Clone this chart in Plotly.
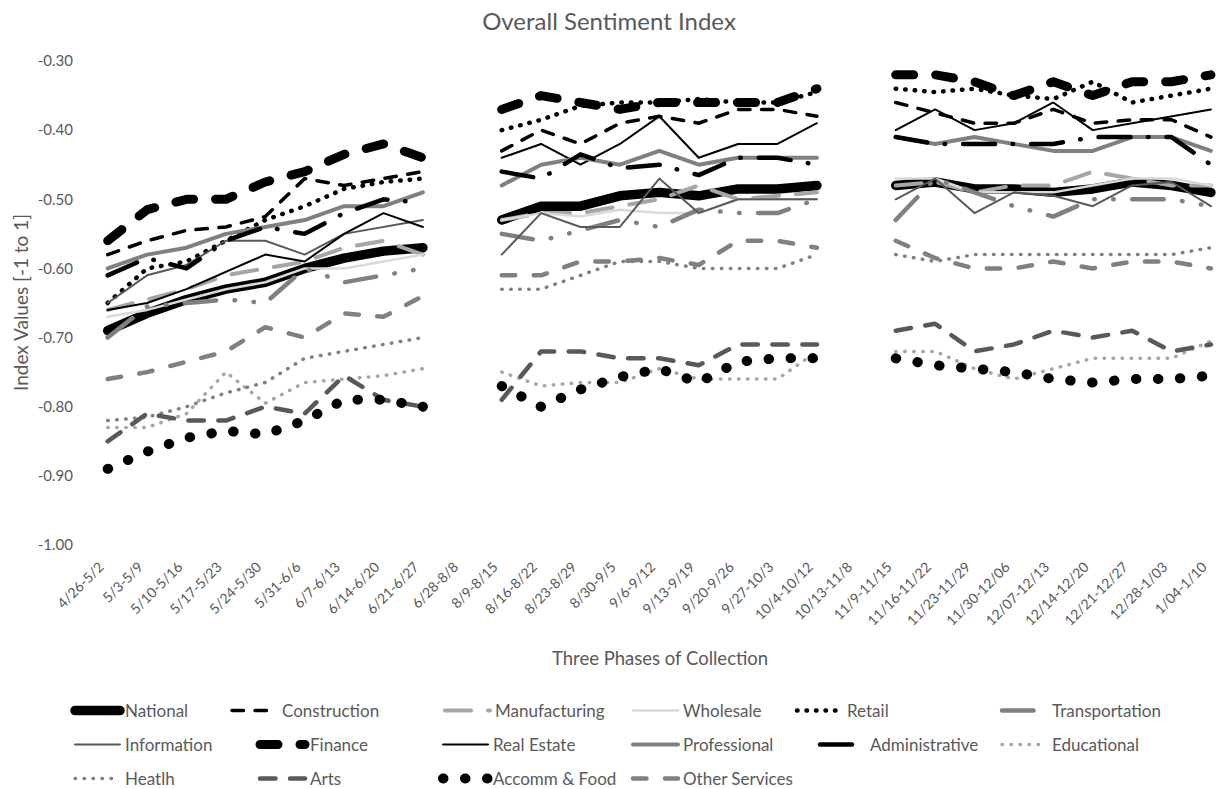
import plotly.graph_objects as go

# Weekly collection windows (two breaks between the three phases)
weeks = ["4/26-5/2", "5/3-5/9", "5/10-5/16", "5/17-5/23", "5/24-5/30", "5/31-6/6",
         "6/7-6/13", "6/14-6/20", "6/21-6/27", "6/28-8/8", "8/9-8/15", "8/16-8/22",
         "8/23-8/29", "8/30-9/5", "9/6-9/12", "9/13-9/19", "9/20-9/26", "9/27-10/3",
         "10/4-10/12", "10/13-11/8", "11/9-11/15", "11/16-11/22", "11/23-11/29",
         "11/30-12/06", "12/07-12/13", "12/14-12/20", "12/21-12/27", "12/28-1/03",
         "1/04-1/10"]

national = [-0.69, -0.665, -0.645, -0.63, -0.62, -0.60, -0.585, -0.575, -0.57, None,
            -0.53, -0.51, -0.51, -0.495, -0.49, -0.495, -0.485, -0.485, -0.48, None,
            -0.48, -0.475, -0.485, -0.485, -0.49, -0.485, -0.475, -0.48, -0.49]
construction = [-0.58, -0.56, -0.545, -0.54, -0.525, -0.47, -0.48, -0.47, -0.46, None,
                -0.43, -0.40, -0.42, -0.39, -0.38, -0.39, -0.37, -0.37, -0.38, None,
                -0.36, -0.375, -0.39, -0.39, -0.37, -0.39, -0.385, -0.385, -0.41]
manufacturing = [-0.66, -0.645, -0.63, -0.61, -0.60, -0.59, -0.57, -0.56, -0.58, None,
                 -0.53, -0.52, -0.52, -0.51, -0.50, -0.48, -0.50, -0.495, -0.49, None,
                 -0.48, -0.475, -0.49, -0.48, -0.48, -0.46, -0.47, -0.48, -0.48]
wholesale = [-0.67, -0.66, -0.645, -0.63, -0.62, -0.60, -0.60, -0.59, -0.58, None,
             -0.53, -0.52, -0.525, -0.515, -0.52, -0.52, -0.50, -0.50, -0.50, None,
             -0.47, -0.47, -0.49, -0.49, -0.49, -0.48, -0.47, -0.47, -0.48]
retail = [-0.65, -0.60, -0.59, -0.56, -0.53, -0.51, -0.485, -0.475, -0.47, None,
          -0.40, -0.385, -0.365, -0.36, -0.36, -0.355, -0.36, -0.36, -0.345, None,
          -0.34, -0.345, -0.34, -0.35, -0.355, -0.33, -0.36, -0.35, -0.34]
transportation = [-0.70, -0.655, -0.65, -0.645, -0.65, -0.60, -0.62, -0.61, -0.60, None,
                  -0.55, -0.56, -0.545, -0.53, -0.54, -0.515, -0.52, -0.52, -0.50, None,
                  -0.53, -0.47, -0.49, -0.51, -0.525, -0.50, -0.50, -0.50, -0.51]
information = [-0.65, -0.61, -0.595, -0.56, -0.56, -0.58, -0.55, -0.54, -0.53, None,
               -0.58, -0.52, -0.54, -0.54, -0.47, -0.52, -0.50, -0.50, -0.50, None,
               -0.50, -0.47, -0.52, -0.49, -0.495, -0.51, -0.48, -0.475, -0.51]
finance = [-0.56, -0.515, -0.50, -0.50, -0.475, -0.46, -0.435, -0.42, -0.44, None,
           -0.37, -0.35, -0.36, -0.37, -0.36, -0.36, -0.36, -0.36, -0.34, None,
           -0.32, -0.32, -0.33, -0.35, -0.33, -0.35, -0.33, -0.33, -0.32]
real_estate = [-0.66, -0.65, -0.63, -0.605, -0.58, -0.59, -0.55, -0.52, -0.54, None,
               -0.44, -0.42, -0.45, -0.42, -0.38, -0.44, -0.42, -0.42, -0.39, None,
               -0.40, -0.37, -0.40, -0.39, -0.36, -0.40, -0.39, -0.38, -0.37]
professional = [-0.60, -0.58, -0.57, -0.55, -0.54, -0.53, -0.51, -0.51, -0.49, None,
                -0.48, -0.45, -0.44, -0.45, -0.43, -0.45, -0.44, -0.44, -0.44, None,
                -0.41, -0.42, -0.41, -0.42, -0.43, -0.43, -0.41, -0.41, -0.43]
administrative = [-0.61, -0.585, -0.60, -0.56, -0.54, -0.55, -0.52, -0.50, -0.505, None,
                  -0.46, -0.47, -0.435, -0.455, -0.45, -0.465, -0.44, -0.44, -0.45, None,
                  -0.41, -0.42, -0.42, -0.42, -0.42, -0.41, -0.41, -0.41, -0.45]
educational = [-0.83, -0.83, -0.81, -0.75, -0.795, -0.765, -0.76, -0.755, -0.745, None,
               -0.75, -0.77, -0.765, -0.765, -0.745, -0.76, -0.76, -0.76, -0.72, None,
               -0.72, -0.72, -0.745, -0.76, -0.745, -0.73, -0.73, -0.73, -0.705]
heatlh = [-0.82, -0.815, -0.80, -0.78, -0.765, -0.73, -0.72, -0.71, -0.70, None,
          -0.63, -0.63, -0.61, -0.59, -0.59, -0.60, -0.60, -0.60, -0.58, None,
          -0.58, -0.59, -0.58, -0.58, -0.58, -0.58, -0.58, -0.58, -0.57]
arts = [-0.85, -0.81, -0.82, -0.82, -0.80, -0.81, -0.755, -0.79, -0.80, None,
        -0.79, -0.72, -0.72, -0.73, -0.73, -0.74, -0.71, -0.71, -0.71, None,
        -0.69, -0.68, -0.72, -0.71, -0.69, -0.70, -0.69, -0.72, -0.71]
accomm_food = [-0.89, -0.865, -0.845, -0.835, -0.84, -0.82, -0.79, -0.79, -0.80, None,
               -0.77, -0.80, -0.775, -0.757, -0.745, -0.765, -0.735, -0.73, -0.73, None,
               -0.73, -0.74, -0.745, -0.75, -0.76, -0.765, -0.76, -0.76, -0.755]
other_services = [-0.76, -0.75, -0.735, -0.72, -0.685, -0.70, -0.665, -0.67, -0.64, None,
                  -0.61, -0.61, -0.59, -0.59, -0.585, -0.595, -0.56, -0.56, -0.57, None,
                  -0.56, -0.585, -0.60, -0.60, -0.59, -0.60, -0.59, -0.59, -0.60]

y_ticks = [-1.0, -0.9, -0.8, -0.7, -0.6, -0.5, -0.4, -0.3]
y_labels = [f"{v:.2f}" for v in y_ticks]

TEXT = "#595959"
FONT = "Lato"

# name, values, colour, width, dash, legend row, legend entry width
series = [
    ("National", national, "#000000", 9.5, "solid", "legend", 97),
    ("Construction", construction, "#000000", 3.5, "11.5px,11.5px", "legend", 153),
    ("Manufacturing", manufacturing, "#a6a6a6", 4, "26px,17px", "legend", 128),
    ("Wholesale", wholesale, "#d9d9d9", 2.5, "solid", "legend", 104),
    ("Retail", retail, "#000000", 4.5, "0.5px,9px", "legend", 145),
    ("Transportation", transportation, "#808080", 4.5,
     "31.5px,18.5px,0.5px,18.5px,0.5px,18.5px", "legend", 110),
    ("Information", information, "#595959", 2, "solid", "legend2", 125),
    ("Finance", finance, "#000000", 9, "18px,22px", "legend2", 123),
    ("Real Estate", real_estate, "#000000", 2, "solid", "legend2", 130),
    ("Professional", professional, "#808080", 4, "solid", "legend2", 127),
    ("Administrative", administrative, "#000000", 4.5, "32px,17.5px,0.5px,18px", "legend2", 122),
    ("Educational", educational, "#a6a6a6", 3.5, "0.5px,8.5px", "legend2", 110),
    ("Heatlh", heatlh, "#808080", 3.5, "0.5px,8.5px", "legend3", 125),
    ("Arts", arts, "#595959", 4.5, "15.5px,14.5px", "legend3", 123),
    ("Accomm & Food", accomm_food, "#000000", 10, "0.5px,21.5px", "legend3", 130),
    ("Other Services", other_services, "#808080", 4.5, "13.5px,18.5px", "legend3", 130),
]

fig = go.Figure()
for name, vals, color, width, dash, leg, lw in series:
    fig.add_trace(go.Scatter(
        x=weeks, y=vals, name=name, mode="lines", connectgaps=False,
        line=dict(color=color, width=width, dash=dash),
        legend=leg, legendwidth=lw, hoverinfo="skip",
    ))

W, H = 1218, 789
L, R, T, B = 88, 0, 61, 244
pw, ph = W - L - R, H - T - B

legend_common = dict(
    orientation="h", xref="container", yref="container",
    xanchor="left", yanchor="middle", x=70 / W,
    font=dict(family=FONT, size=17, color=TEXT),
    bgcolor="rgba(0,0,0,0)", itemwidth=45, entrywidthmode="pixels",
    itemclick=False, itemdoubleclick=False,
)

fig.update_layout(
    width=W, height=H,
    margin=dict(l=L, r=R, t=T, b=B, autoexpand=False),
    paper_bgcolor="white", plot_bgcolor="white",
    font=dict(family=FONT, color=TEXT),
    title=dict(text="Overall Sentiment Index", x=0.5, xref="container",
               y=1 - 22 / H, yref="container", xanchor="center", yanchor="middle",
               font=dict(family=FONT, size=24, color=TEXT)),
    xaxis=dict(type="category", range=[-0.5, 28.18], showgrid=False, zeroline=False,
               showline=False, ticks="", tickangle=-45,
               tickfont=dict(family=FONT, size=14, color=TEXT),
               ticklabelstandoff=10, ticklabelshift=-8),
    yaxis=dict(range=[-1.0, -0.30], tickvals=y_ticks, ticktext=y_labels,
               showgrid=False, zeroline=False, showline=False, ticks="",
               tickfont=dict(family=FONT, size=15, color=TEXT), ticklabelstandoff=14),
    legend=dict(legend_common, y=1 - 711 / H),
    legend2=dict(legend_common, y=1 - 745 / H),
    legend3=dict(legend_common, y=1 - 779 / H),
    annotations=[
        dict(text="Three Phases of Collection", xref="paper", yref="paper",
             x=(660 - L) / pw, y=(T + ph - 658) / ph, xanchor="center", yanchor="middle",
             showarrow=False, font=dict(family=FONT, size=18.5, color=TEXT)),
        dict(text="Index Values [-1 to 1]", xref="paper", yref="paper",
             x=(20 - L) / pw, y=0.5, xanchor="center", yanchor="middle", textangle=-90,
             showarrow=False, font=dict(family=FONT, size=19, color=TEXT)),
    ],
)

# Rounded caps and joins on every drawn line, as in the original chart style
round_caps = """
var gd = document.getElementById('{plot_id}');
function roundCaps(){
  gd.querySelectorAll('path.js-line').forEach(function(p){
    p.style.strokeLinecap = 'round';
    p.style.strokeLinejoin = 'round';
  });
}
roundCaps();
gd.on('plotly_afterplot', roundCaps);
"""

fig.write_html("out.html", post_script=round_caps)
